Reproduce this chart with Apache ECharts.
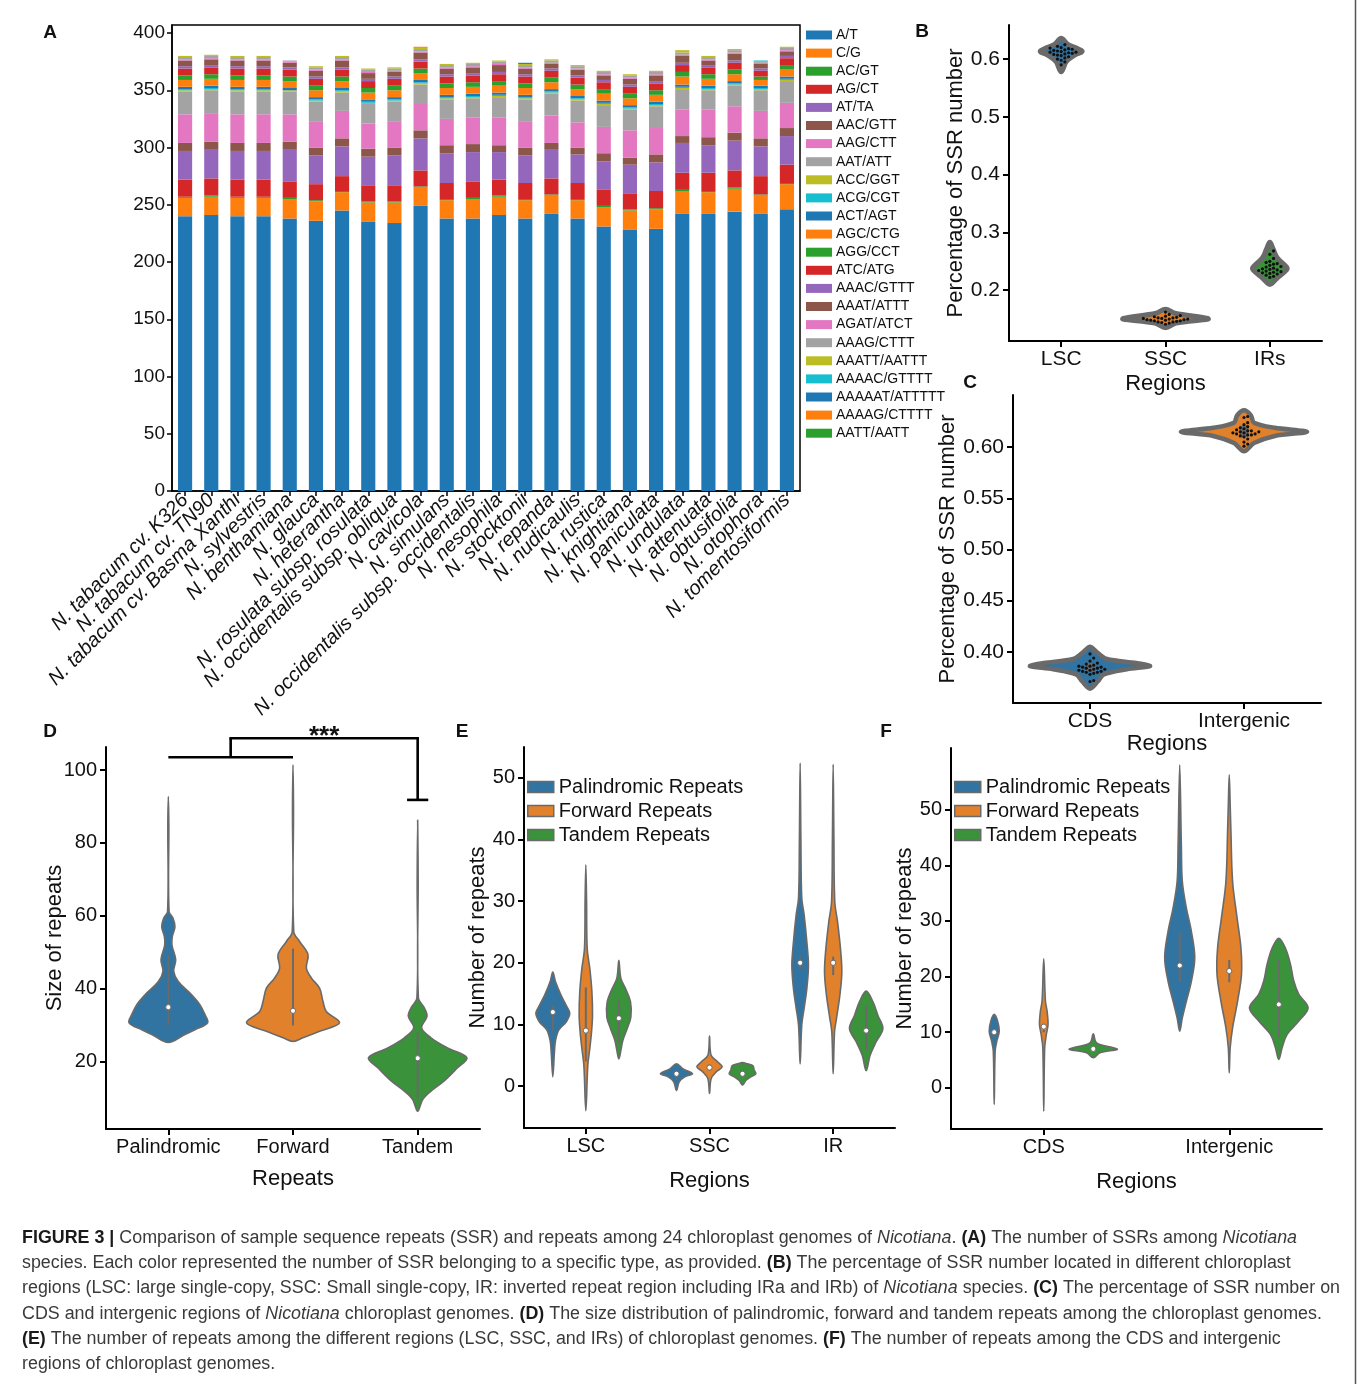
<!DOCTYPE html>
<html><head><meta charset="utf-8">
<script src="https://cdn.jsdelivr.net/npm/echarts@6/dist/echarts.min.js"></script>
<style>html,body{margin:0;padding:0;background:#fff}#c{width:1357px;height:1384px}</style>
</head><body><div id="c"></div>
<script>
// ---------------- DATA ----------------
const species = ["N. tabacum cv. K326","N. tabacum cv. TN90","N. tabacum cv. Basma Xanthi","N. sylvestris","N. benthamiana","N. glauca","N. heterantha","N. rosulata subsp. rosulata","N. occidentalis subsp. obliqua","N. cavicola","N. simulans","N. occidentalis subsp. occidentalis","N. nesophila","N. stocktonii","N. repanda","N. nudicaulis","N. rustica","N. knightiana","N. paniculata","N. undulata","N. attenuata","N. obtusifolia","N. otophora","N. tomentosiformis"];
const ssrTypes = ["A/T","C/G","AC/GT","AG/CT","AT/TA","AAC/GTT","AAG/CTT","AAT/ATT","ACC/GGT","ACG/CGT","ACT/AGT","AGC/CTG","AGG/CCT","ATC/ATG","AAAC/GTTT","AAAT/ATTT","AGAT/ATCT","AAAG/CTTT","AAATT/AATTT","AAAAC/GTTTT","AAAAAT/ATTTTT","AAAAG/CTTTT","AATT/AATT"];
const sAT    = [240,241,240,240,238,236,245,235,234,249,238,238,241,238,242,238,231,228,229,242,242,244,242,246];
const sCG    = [16,16,16,16,17,17,16,17,18,16,16,17,16,16,16,16,17,17,17,20,19,20,16,22];
const sACGT  = [1,1,1,1,1,1,1,1,1,1,1,1,1,1,1,1,1,1,1,1,1,1,1,1];
const sAGCT  = [15,15,15,15,14,14,13,14,14,14,14,14,14,14,14,14,14,14,15,15,16,15,16,16];
const sATTA  = [25,25,25,25,28,25,26,25,26,28,26,26,24,24,25,25,25,25,25,26,24,26,26,25];
const sAAC   = [7,7,7,7,7,7,7,7,7,7,7,7,6,7,6,6,7,6,7,6,7,7,7,7];
const sAAG   = [25,25,25,25,24,23,24,22,23,23,23,23,24,23,24,22,23,24,23,23,24,23,24,22];
const sAAT   = [20,20,20,20,20,17,16,17,17,17,17,17,18,19,19,19,19,18,19,18,17,18,18,19];
const sACC   = [1,1,1,1,1,1,1,1,1,1,1,1,1,1,1,1,1,1,1,1,1,1,1,1];
const sACG   = [1,1,1,1,0,1,1,1,1,1,1,1,1,1,1,1,1,1,1,1,1,1,1,1];
const sACT   = [2,2,2,2,2,2,2,2,2,2,2,2,2,2,2,2,2,2,2,2,2,2,2,2];
const sAGC   = [6,6,6,6,6,6,6,6,6,6,6,6,6,6,6,6,6,6,6,7,6,6,5,6];
const sAGG   = [4,4,4,4,4,4,4,4,4,4,4,4,4,4,4,4,4,4,4,4,4,4,3,4];
const sATC   = [6,6,6,6,6,6,6,6,6,6,6,6,6,6,6,6,6,6,6,6,6,6,5,6];
const sAAAC  = [2,2,2,2,2,2,2,2,2,2,2,2,2,2,2,2,2,2,2,2,2,2,2,2];
const sAAAT  = [5,5,5,5,4,5,6,5,4,6,5,5,6,5,4,5,4,5,5,6,4,6,4,4];
const sAGAT  = [1,1,1,1,1,1,1,1,1,1,1,1,1,1,1,1,1,1,1,1,1,1,1,1];
const sAAAG  = [2,2,2,2,1,2,2,2,2,2,2,2,2,2,2,2,2,2,2,2,2,2,1,2];
const sAAATT = [1,1,1,1,0,1,1,1,1,1,1,1,1,1,1,1,1,1,1,2,1,1,0,1];
const sAAAAC = [0,0,0,0,0,0,0,0,0,0,0,0,0,0,0,0,0,0,0,0,0,0,1,0];
const sAAAAAT= [0,0,0,0,0,0,0,0,0,0,0,0,0,1,0,0,0,0,0,0,0,0,0,0];
const sAAAAG = [0,0,0,0,0,0,0,0,0,1,0,0,0,0,0,0,0,0,0,0,0,0,0,0];
const sAATT  = [0,0,0,0,0,0,0,0,0,0,0,0,0,0,0,0,0,0,0,0,0,0,0,0];
const aTicks = [0,50,100,150,200,250,300,350,400];

// B: SSR share by region (violin profiles [value, half-width as band fraction])
const bRegions = ["LSC","SSC","IRs"];
const bTicks = [0.2,0.3,0.4,0.5,0.6];
const bLSC = [[0.636,0],[0.626,0.06],[0.618,0.16],[0.613,0.2],[0.607,0.13],[0.596,0.05],[0.578,0]];
const bSSC = [[0.167,0],[0.160,0.09],[0.152,0.38],[0.150,0.41],[0.143,0.1],[0.135,0]];
const bIRs = [[0.283,0],[0.272,0.03],[0.256,0.07],[0.240,0.16],[0.235,0.16],[0.221,0.07],[0.210,0]];
const bDotsLSC = [0.625,0.622,0.620,0.619,0.618,0.617,0.616,0.615,0.614,0.613,0.612,0.612,0.611,0.610,0.609,0.608,0.607,0.606,0.604,0.602,0.600,0.598,0.595,0.590];
const bDotsSSC = [0.162,0.158,0.156,0.155,0.154,0.153,0.152,0.152,0.151,0.151,0.150,0.150,0.149,0.149,0.148,0.148,0.147,0.147,0.146,0.145,0.145,0.144,0.143,0.141];
const bDotsIRs = [0.268,0.262,0.255,0.250,0.248,0.246,0.245,0.243,0.241,0.240,0.238,0.237,0.236,0.235,0.234,0.233,0.232,0.231,0.230,0.229,0.228,0.226,0.224,0.222];

// C: SSR share CDS vs intergenic
const cCats = ["CDS","Intergenic"];
const cTicks = [0.40,0.45,0.50,0.55,0.60];
const cCDS = [[0.405,0],[0.399,0.05],[0.393,0.11],[0.389,0.3],[0.386,0.39],[0.383,0.24],[0.378,0.09],[0.371,0.05],[0.364,0]];
const cInter = [[0.636,0],[0.631,0.045],[0.624,0.065],[0.619,0.2],[0.615,0.41],[0.611,0.2],[0.604,0.065],[0.596,0]];
const cDotsCDS = [0.398,0.394,0.391,0.389,0.388,0.387,0.386,0.386,0.385,0.385,0.384,0.384,0.383,0.383,0.382,0.382,0.381,0.381,0.380,0.380,0.379,0.378,0.372,0.371];
const cDotsInter = [0.630,0.629,0.624,0.622,0.620,0.619,0.618,0.617,0.616,0.616,0.615,0.615,0.614,0.614,0.613,0.613,0.612,0.612,0.611,0.610,0.608,0.605,0.603,0.601];
const cBoxes = [[0.381,0.389],[0.610,0.621]];

// D: size of repeats
const dCats = ["Palindromic","Forward","Tandem"];
const dTicks = [20,40,60,80,100];
const dPal = [[92.7,0],[85,0.004],[61.2,0.006],[59.4,0.037],[57,0.053],[54.4,0.032],[52,0.029],[48,0.059],[44.8,0.043],[42,0.08],[38.4,0.187],[35.7,0.253],[33,0.293],[30.7,0.315],[28.8,0.213],[27.5,0.133],[25.3,0]];
const dFwd = [[101.4,0],[90,0.004],[55.7,0.006],[53,0.053],[49.4,0.12],[45.7,0.107],[43,0.147],[40.2,0.213],[36.6,0.24],[33.8,0.267],[30.7,0.373],[28.4,0.213],[26.6,0.08],[25.6,0]];
const dTan = [[86.3,0],[70,0.004],[37.5,0.006],[34.8,0.053],[32.5,0.075],[29.3,0.032],[26.6,0.107],[23.8,0.24],[21.1,0.395],[18.4,0.32],[14.8,0.213],[12,0.107],[9.7,0.04],[6.5,0]];
const dMedians = [35,34,21];
const dBoxes = [[30,49],[30,51],[10,28]];
const dBracket = [103.5,108.7,91.8]; // low bar, top bar, tandem end

// E: repeats by region
const eCats = ["LSC","SSC","IR"];
const eTicks = [0,10,20,30,40,50];
const ePalLSC = [[18.5,0],[16.9,0.022],[14.7,0.067],[13.1,0.108],[11.8,0.137],[10.4,0.108],[9.1,0.049],[7.4,0.022],[5.5,0.013],[1.5,0]];
const eFwdLSC = [[35.9,0],[30,0.006],[22.3,0.011],[19.1,0.032],[15.3,0.049],[11.5,0.054],[8.8,0.046],[6.1,0.032],[3.4,0.016],[-4,0]];
const eTanLSC = [[20.4,0],[17.5,0.016],[15.8,0.054],[13.7,0.094],[11.2,0.097],[9.3,0.067],[7.4,0.032],[6.1,0.019],[4.4,0]];
const ePalSSC = [[3.6,0],[2.8,0.054],[2.0,0.13],[1.5,0.067],[0.7,0.022],[-0.7,0]];
const eFwdSSC = [[8.1,0],[5.0,0.013],[3.9,0.067],[3.1,0.102],[2.3,0.054],[1.2,0.013],[-1.2,0]];
const eTanSSC = [[3.8,0],[3.6,0.04],[3.3,0.085],[2.6,0.094],[2.0,0.108],[1.5,0.067],[0.9,0.027],[0.2,0]];
const ePalIR = [[52.4,0],[40,0.006],[30.5,0.013],[27.8,0.032],[23.4,0.054],[19.6,0.067],[15.8,0.054],[12.6,0.032],[9.9,0.013],[3.6,0]];
const eFwdIR = [[52.2,0],[40,0.006],[29.9,0.013],[26.7,0.035],[22.3,0.059],[18.5,0.07],[14.7,0.054],[11,0.027],[8.8,0.011],[2,0]];
const eTanIR = [[15.4,0],[13.7,0.054],[11.5,0.094],[9.3,0.135],[7.2,0.081],[5.0,0.032],[2.5,0]];
const ePalMed = [12,2,20], eFwdMed = [9,3,20], eTanMed = [11,2,9];
const ePalBox = [[9,13],[1,2.5],[19,21]], eFwdBox = [[4,16],[2.5,3.5],[18,21]], eTanBox = [[7,14],[1.5,2.5],[6,13]];

// F: repeats CDS vs intergenic
const fCats = ["CDS","Intergenic"];
const fTicks = [0,10,20,30,40,50];
const fPalCDS = [[13.2,0],[12.0,0.018],[10.2,0.027],[8.4,0.014],[6.6,0.005],[-3,0]];
const fFwdCDS = [[23.2,0],[15.6,0.009],[13.8,0.018],[11.4,0.023],[9.6,0.014],[7.2,0.005],[-4.2,0]];
const fTanCDS = [[9.7,0],[8.1,0.018],[7.2,0.108],[6.9,0.129],[6.3,0.036],[5.4,0]];
const fPalInt = [[58.1,0],[43.1,0.009],[37.1,0.014],[32.3,0.036],[28.1,0.063],[23.4,0.081],[19.2,0.063],[15.6,0.036],[12.6,0.014],[10.2,0]];
const fFwdInt = [[56.3,0],[50.9,0.005],[46.1,0.009],[37.1,0.018],[31.1,0.04],[25.1,0.063],[20.4,0.066],[15.6,0.045],[10.8,0.018],[7.2,0.005],[2.7,0]];
const fTanInt = [[26.9,0],[25.1,0.036],[22.2,0.063],[19.2,0.081],[16.8,0.108],[14.4,0.158],[12,0.108],[9.6,0.045],[7.2,0.018],[5.1,0]];
const fPalMed = [10,22], fFwdMed = [11,21], fTanMed = [7,15];
const fPalBox = [[9,10.5],[19,28]], fFwdBox = [[10,11.5],[19,23]], fTanBox = [[6.8,7.2],[9,23]];

const repeatNames = ["Palindromic Repeats","Forward Repeats","Tandem Repeats"];

// ---------------- STYLE ----------------
const FONT = "'Liberation Sans', Arial, sans-serif";
const TXT = '#111';
const tab10 = ['#1f77b4','#ff7f0e','#2ca02c','#d62728','#9467bd','#8c564b','#e377c2','#a3a3a3','#bcbd22','#17becf'];
const hue = ['#3274a1','#e1812c','#3a923a'];
const OUT = '#6a6a6a';

const chart = echarts.init(document.getElementById('c'), null, {renderer:'canvas'});

const seriesArrays = [sAT,sCG,sACGT,sAGCT,sATTA,sAAC,sAAG,sAAT,sACC,sACG,sACT,sAGC,sAGG,sATC,sAAAC,sAAAT,sAGAT,sAAAG,sAAATT,sAAAAC,sAAAAAT,sAAAAG,sAATT];

const grids = [
  {left:172, top:25, width:628, height:466, show:true, borderColor:'#000', borderWidth:1.5},
  {left:1009, top:25, width:313, height:316},
  {left:1013, top:395, width:308, height:308},
  {left:106, top:747, width:374, height:382},
  {left:524, top:747, width:371, height:381},
  {left:951, top:748, width:371, height:381}
];

function xCat(gi, data, opt){
  return Object.assign({
    type:'category', gridIndex:gi, data, boundaryGap:true, nameMoveOverlap:false,
    axisLine:{onZero:false, lineStyle:{color:'#000', width:2}},
    axisTick:{show:true, alignWithLabel:true, length:6, lineStyle:{color:'#000', width:2}},
    axisLabel:{interval:0, color:TXT, fontSize:21, fontFamily:FONT, margin:8},
    splitLine:{show:false},
    nameLocation:'middle', nameTextStyle:{color:TXT, fontSize:22, fontFamily:FONT}
  }, opt || {});
}
function yVal(gi, min, max, ticks, fmt, opt){
  return Object.assign({
    type:'value', gridIndex:gi, min, max, nameMoveOverlap:false,
    axisLine:{show:true, lineStyle:{color:'#000', width:2}},
    axisTick:{show:true, length:6, customValues:ticks, lineStyle:{color:'#000', width:2}},
    axisLabel:{customValues:ticks, formatter:fmt, color:TXT, fontSize:21, fontFamily:FONT, margin:9},
    splitLine:{show:false},
    nameLocation:'middle', nameTextStyle:{color:TXT, fontSize:22, fontFamily:FONT}
  }, opt || {});
}

const xAxes = [
  xCat(0, species, {
    axisLine:{onZero:false, lineStyle:{color:'#000', width:1.5}},
    axisTick:{show:true, alignWithLabel:true, length:5, lineStyle:{color:'#000', width:1.5}},
    axisLabel:{interval:0, rotate:45, color:TXT, fontSize:20, fontStyle:'italic', fontFamily:FONT, margin:6}
  }),
  xCat(1, bRegions, {name:'Regions', nameGap:32}),
  xCat(2, cCats, {name:'Regions', nameGap:30}),
  xCat(3, dCats, {name:'Repeats', nameGap:39, axisLabel:{interval:0, color:TXT, fontSize:20, fontFamily:FONT, margin:8}}),
  xCat(4, eCats, {name:'Regions', nameGap:42, axisLabel:{interval:0, color:TXT, fontSize:20, fontFamily:FONT, margin:8}}),
  xCat(5, fCats, {name:'Regions', nameGap:42, axisLabel:{interval:0, color:TXT, fontSize:20, fontFamily:FONT, margin:8}})
];
const yAxes = [
  yVal(0, 0, 407, aTicks, v=>String(v), {
    axisLine:{show:true, lineStyle:{color:'#000', width:1.5}},
    axisTick:{show:true, length:5, customValues:aTicks, lineStyle:{color:'#000', width:1.5}},
    axisLabel:{customValues:aTicks, color:TXT, fontSize:19, fontFamily:FONT, margin:7}
  }),
  yVal(1, 0.112, 0.659, bTicks, v=>v.toFixed(1), {name:'Percentage of SSR number', nameGap:42}),
  yVal(2, 0.350, 0.651, cTicks, v=>v.toFixed(2), {name:'Percentage of SSR number', nameGap:54}),
  yVal(3, 1.6, 106.3, dTicks, v=>String(v), {name:'Size of repeats', nameGap:40, axisLabel:{customValues:dTicks, color:TXT, fontSize:20, fontFamily:FONT, margin:9}}),
  yVal(4, -6.8, 55, eTicks, v=>String(v), {name:'Number of repeats', nameGap:35, axisLabel:{customValues:eTicks, color:TXT, fontSize:20, fontFamily:FONT, margin:9}}),
  yVal(5, -7.4, 61.1, fTicks, v=>String(v), {name:'Number of repeats', nameGap:35, axisLabel:{customValues:fTicks, color:TXT, fontSize:20, fontFamily:FONT, margin:9}})
];

const series = [];
ssrTypes.forEach((name, i) => {
  series.push({type:'bar', name, stack:'ssr', xAxisIndex:0, yAxisIndex:0, barWidth:'54%',
    itemStyle:{color:tab10[i % 10]}, data:seriesArrays[i], silent:true});
});

function violinSeries(name, gi, specs, opts){
  return {
    type:'custom', name, xAxisIndex:gi, yAxisIndex:gi, clip:false, silent:true, z:3,
    itemStyle:{color:opts.legendColor || specs[0].color, borderColor:OUT, borderWidth:1.5},
    data: specs.map(s => [s.cat, s.median]),
    encode:{x:0, y:1},
    renderItem(params, api){
      const s = specs[params.dataIndex];
      const band = api.size([1,0])[0];
      const cx = api.coord([s.cat, s.median])[0] + (s.off || 0) * band;
      const P = s.profile;
      const pts = [];
      for (let i = 0; i < P.length; i++) pts.push([cx + P[i][1]*band, api.coord([s.cat, P[i][0]])[1]]);
      for (let i = P.length - 2; i >= 1; i--) pts.push([cx - P[i][1]*band, api.coord([s.cat, P[i][0]])[1]]);
      const ch = [{type:'polygon', shape:{points:pts, smooth:opts.smooth}, style:{fill:s.color, stroke:OUT, lineWidth:opts.lw, lineJoin:'round'}}];
      if (opts.inner === 'line') {
        const y0 = api.coord([s.cat, s.box[0]])[1], y1 = api.coord([s.cat, s.box[1]])[1];
        ch.push({type:'line', shape:{x1:cx, y1:y0, x2:cx, y2:y1}, style:{stroke:OUT, lineWidth:opts.boxW || 2}});
        const ym = api.coord([s.cat, s.median])[1];
        ch.push({type:'circle', shape:{cx:cx, cy:ym, r:2.6}, style:{fill:'#fff', stroke:OUT, lineWidth:1}});
      } else if (opts.inner === 'box') {
        const y0 = api.coord([s.cat, s.box[0]])[1], y1 = api.coord([s.cat, s.box[1]])[1];
        ch.push({type:'rect', shape:{x:cx-4.5, y:Math.min(y0,y1), width:9, height:Math.abs(y1-y0)}, style:{fill:OUT}});
      }
      return {type:'group', children:ch};
    }
  };
}

function swarmSeries(gi, groups, r){
  return {
    type:'custom', xAxisIndex:gi, yAxisIndex:gi, clip:false, silent:true, z:4,
    data: groups.map(g => [g.cat, g.values[0]]),
    encode:{x:0, y:1},
    renderItem(params, api){
      const g = groups[params.dataIndex];
      const cx = api.coord([g.cat, g.values[0]])[0];
      const d = r*2 + 0.5;
      const placed = [], ch = [];
      g.values.slice().sort((a,b)=>a-b).forEach(v => {
        const y = api.coord([g.cat, v])[1];
        let x = cx;
        for (let k = 0; k < 40; k++) {
          const off = (k === 0 ? 0 : (k % 2 ? 1 : -1) * Math.ceil(k/2)) * d;
          x = cx + off;
          if (!placed.some(p => Math.hypot(p[0]-x, p[1]-y) < d)) break;
        }
        placed.push([x,y]);
        ch.push({type:'circle', shape:{cx:x, cy:y, r}, style:{fill:'#111'}});
      });
      return {type:'group', children:ch};
    }
  };
}

// B
series.push(violinSeries('B', 1, [
  {cat:0, profile:bLSC, median:0.612, color:hue[0], box:[0.606,0.617]},
  {cat:1, profile:bSSC, median:0.150, color:hue[1], box:[0.147,0.153]},
  {cat:2, profile:bIRs, median:0.236, color:hue[2], box:[0.23,0.245]}
], {smooth:0.35, lw:5, inner:'none'}));
series.push(swarmSeries(1, [{cat:0, values:bDotsLSC},{cat:1, values:bDotsSSC},{cat:2, values:bDotsIRs}], 1.6));
// C
series.push(violinSeries('C', 2, [
  {cat:0, profile:cCDS, median:0.385, color:hue[0], box:cBoxes[0]},
  {cat:1, profile:cInter, median:0.615, color:hue[1], box:cBoxes[1]}
], {smooth:0.3, lw:4.5, inner:'box'}));
series.push(swarmSeries(2, [{cat:0, values:cDotsCDS},{cat:1, values:cDotsInter}], 1.6));
// D
series.push(violinSeries('D', 3, [
  {cat:0, profile:dPal, median:dMedians[0], color:hue[0], box:dBoxes[0]},
  {cat:1, profile:dFwd, median:dMedians[1], color:hue[1], box:dBoxes[1]},
  {cat:2, profile:dTan, median:dMedians[2], color:hue[2], box:dBoxes[2]}
], {smooth:0.35, lw:1.6, inner:'line'}));
series.push({
  type:'custom', xAxisIndex:3, yAxisIndex:3, clip:false, silent:true, z:5,
  data:[[0, dBracket[0]]], encode:{x:0,y:1},
  renderItem(params, api){
    const band = api.size([1,0])[0];
    const a = api.coord([0, dBracket[0]]), b = api.coord([1, dBracket[0]]);
    const mid = (a[0] + b[0]) / 2;
    const top = api.coord([0, dBracket[1]])[1];
    const tx = api.coord([2, dBracket[1]])[0];
    const tEnd = api.coord([2, dBracket[2]])[1];
    const st = {stroke:'#000', lineWidth:2.6};
    return {type:'group', children:[
      {type:'line', shape:{x1:a[0], y1:a[1], x2:b[0], y2:b[1]}, style:st},
      {type:'line', shape:{x1:mid, y1:a[1], x2:mid, y2:top}, style:st},
      {type:'line', shape:{x1:mid-1.3, y1:top, x2:tx+1.3, y2:top}, style:st},
      {type:'line', shape:{x1:tx, y1:top, x2:tx, y2:tEnd}, style:st},
      {type:'line', shape:{x1:tx-0.085*band, y1:tEnd, x2:tx+0.085*band, y2:tEnd}, style:st},
      {type:'text', style:{x:(mid+tx)/2, y:top+12, text:'***', fontSize:26, fontWeight:'bold', fontFamily:FONT, fill:'#111', align:'center', verticalAlign:'bottom'}}
    ]};
  }
});
// E
const eOff = [-0.267, 0, 0.267];
const eSpec = [
  [[ePalLSC,ePalSSC,ePalIR], ePalMed, ePalBox],
  [[eFwdLSC,eFwdSSC,eFwdIR], eFwdMed, eFwdBox],
  [[eTanLSC,eTanSSC,eTanIR], eTanMed, eTanBox]
];
eSpec.forEach((sp, h) => {
  series.push(violinSeries(repeatNames[h], 4, sp[0].map((prof, c) => ({cat:c, off:eOff[h], profile:prof, median:sp[1][c], box:sp[2][c], color:hue[h]})), {smooth:0.35, lw:1.6, inner:'line', legendColor:hue[h]}));
});
// F
const fSpec = [
  [[fPalCDS,fPalInt], fPalMed, fPalBox],
  [[fFwdCDS,fFwdInt], fFwdMed, fFwdBox],
  [[fTanCDS,fTanInt], fTanMed, fTanBox]
];
fSpec.forEach((sp, h) => {
  series.push(violinSeries(repeatNames[h], 5, sp[0].map((prof, c) => ({cat:c, off:eOff[h], profile:prof, median:sp[1][c], box:sp[2][c], color:hue[h]})), {smooth:0.35, lw:1.6, inner:'line', legendColor:hue[h]}));
});

// caption
const captionLines = [
 "{b|FIGURE 3 |} Comparison of sample sequence repeats (SSR) and repeats among 24 chloroplast genomes of {i|Nicotiana}. {b|(A)} The number of SSRs among {i|Nicotiana}",
 "species. Each color represented the number of SSR belonging to a specific type, as provided. {b|(B)} The percentage of SSR number located in different chloroplast",
 "regions (LSC: large single-copy, SSC: Small single-copy, IR: inverted repeat region including IRa and IRb) of {i|Nicotiana} species. {b|(C)} The percentage of SSR number on",
 "CDS and intergenic regions of {i|Nicotiana} chloroplast genomes. {b|(D)} The size distribution of palindromic, forward and tandem repeats among the chloroplast genomes.",
 "{b|(E)} The number of repeats among the different regions (LSC, SSC, and IRs) of chloroplast genomes. {b|(F)} The number of repeats among the CDS and intergenic",
 "regions of chloroplast genomes."
];
const CAP_FS = 18;
const mctx = document.createElement('canvas').getContext('2d');
mctx.font = CAP_FS + "px " + FONT;
const plain3 = captionLines[2].replace(/\{[a-z]\|([^}]*)\}/g, '$1');
const capScale = Math.min(1, 1318 / mctx.measureText(plain3).width);
const graphics = [];
captionLines.forEach((t, i) => {
  graphics.push({type:'text', x:22, y:1238 + i*25.2, scaleX:capScale, originX:0, silent:true,
    style:{text:t, fontSize:CAP_FS, fontFamily:FONT, fill:'#3a3a3a', verticalAlign:'middle',
      rich:{b:{fontWeight:'bold', fontSize:CAP_FS, fontFamily:FONT, fill:'#1a1a1a'}, i:{fontStyle:'italic', fontSize:CAP_FS, fontFamily:FONT, fill:'#3a3a3a'}}}});
});
[['A',50,33],['B',922,32],['C',970,383],['D',50,732],['E',462,732],['F',886,732]].forEach(p => {
  graphics.push({type:'text', x:p[1], y:p[2], silent:true, style:{text:p[0], fontSize:19, fontWeight:'bold', fontFamily:FONT, fill:'#111', align:'center', verticalAlign:'middle'}});
});
graphics.push({type:'line', silent:true, shape:{x1:1355.5, y1:0, x2:1355.5, y2:1384}, style:{stroke:'#555', lineWidth:1.5}});

const legendBase = {orient:'vertical', icon:'rect', selectedMode:false, textStyle:{color:TXT, fontFamily:FONT}};
chart.setOption({
  animation:false,
  backgroundColor:'#fff',
  grid:grids, xAxis:xAxes, yAxis:yAxes, series,
  legend:[
    Object.assign({}, legendBase, {data:ssrTypes, left:806, top:28, itemWidth:26, itemHeight:9, itemGap:4.1, itemStyle:{borderWidth:0},
      textStyle:{color:TXT, fontFamily:FONT, fontSize:14, lineHeight:14, padding:[0,0,0,-1]}, padding:0}),
    Object.assign({}, legendBase, {data:repeatNames, left:527, top:777, itemWidth:26, itemHeight:11, itemGap:4, padding:0,
      itemStyle:{borderColor:OUT, borderWidth:1.5}, textStyle:{color:TXT, fontFamily:FONT, fontSize:20, lineHeight:20}, itemTextGap:12}),
    Object.assign({}, legendBase, {data:repeatNames, left:954, top:777, itemWidth:26, itemHeight:11, itemGap:4, padding:0,
      itemStyle:{borderColor:OUT, borderWidth:1.5}, textStyle:{color:TXT, fontFamily:FONT, fontSize:20, lineHeight:20}, itemTextGap:12})
  ],
  graphic:graphics
});
</script></body></html>
